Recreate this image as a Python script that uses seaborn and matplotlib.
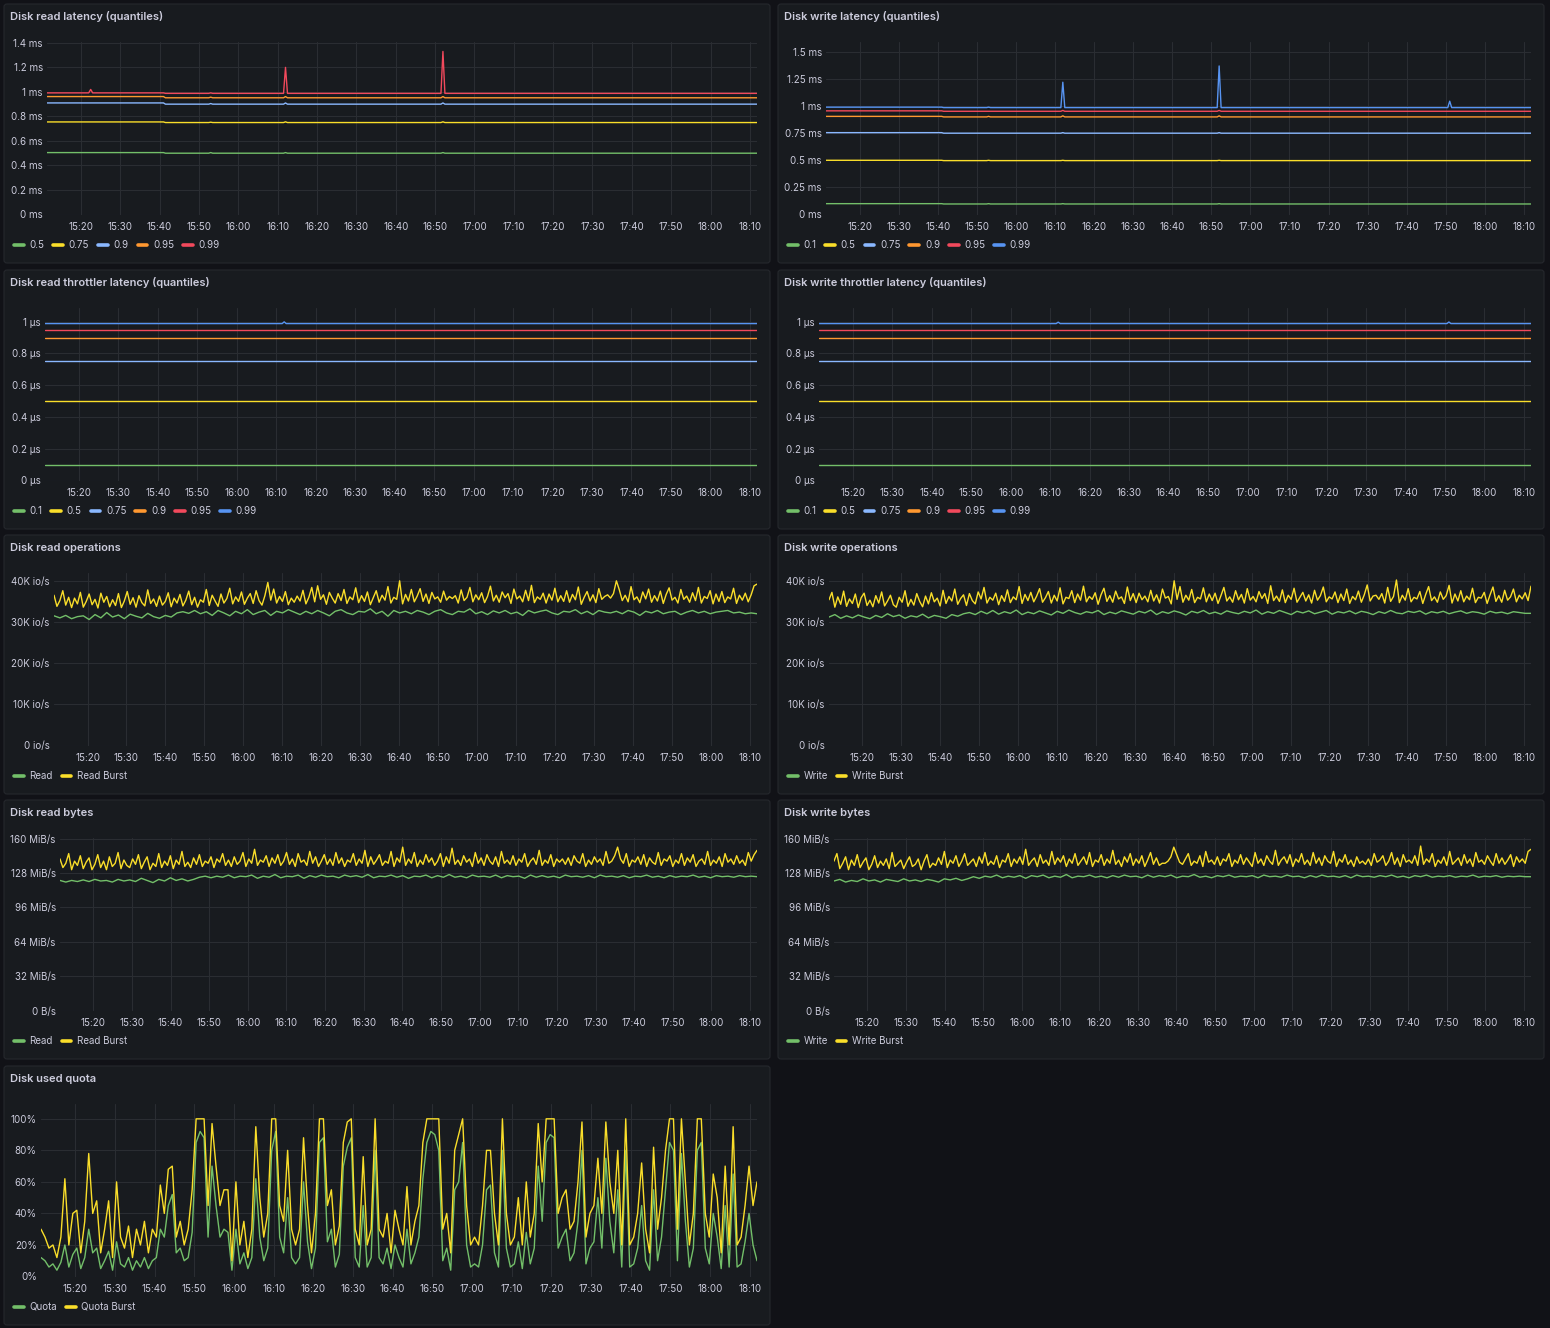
import numpy as np
import pandas as pd
import seaborn as sns
import matplotlib
matplotlib.use("Agg")
import matplotlib.pyplot as plt
from matplotlib.lines import Line2D
from matplotlib.patches import FancyBboxPatch

# ---------------- data ----------------
# time is minutes after 15:00
x_ticks = [20, 30, 40, 50, 60, 70, 80, 90, 100, 110, 120, 130, 140, 150, 160, 170, 180, 190]
x_labels = ['15:20', '15:30', '15:40', '15:50', '16:00', '16:10', '16:20', '16:30', '16:40',
            '16:50', '17:00', '17:10', '17:20', '17:30', '17:40', '17:50', '18:00', '18:10']
t_start, t_end = 11.4, 191.8

# disk read latency (ms)
rlat_t = [11.4, 22, 22.5, 23, 41, 41.5, 52.5, 53, 53.5, 71.5, 72, 72.5, 111.5, 112, 112.5, 191.8]
rlat_50 = [0.505, 0.505, 0.505, 0.505, 0.505, 0.50, 0.50, 0.505, 0.50, 0.50, 0.505, 0.50, 0.50, 0.505, 0.50, 0.50]
rlat_75 = [0.755, 0.755, 0.755, 0.755, 0.755, 0.75, 0.75, 0.753, 0.75, 0.75, 0.756, 0.75, 0.75, 0.756, 0.75, 0.75]
rlat_90 = [0.91, 0.91, 0.91, 0.91, 0.91, 0.90, 0.90, 0.905, 0.90, 0.90, 0.91, 0.90, 0.90, 0.91, 0.90, 0.90]
rlat_95 = [0.962, 0.962, 0.962, 0.962, 0.962, 0.952, 0.952, 0.957, 0.952, 0.952, 0.962, 0.952, 0.952, 0.962, 0.952, 0.952]
rlat_99 = [0.992, 0.992, 1.02, 0.992, 0.992, 0.988, 0.988, 0.992, 0.988, 0.988, 1.20, 0.988, 0.988, 1.33, 0.988, 0.988]

# disk write latency (ms)
wlat_t = [11.4, 22, 41, 41.5, 52.5, 53, 53.5, 71.5, 72, 72.5, 111.5, 112, 112.5, 170.5, 171, 171.5, 191.8]
wlat_10 = [0.10, 0.10, 0.10, 0.097, 0.097, 0.10, 0.097, 0.097, 0.10, 0.097, 0.097, 0.10, 0.097, 0.097, 0.097, 0.097, 0.097]
wlat_50 = [0.50, 0.50, 0.50, 0.497, 0.497, 0.50, 0.497, 0.497, 0.50, 0.497, 0.497, 0.50, 0.497, 0.497, 0.497, 0.497, 0.497]
wlat_75 = [0.755, 0.755, 0.755, 0.75, 0.75, 0.75, 0.75, 0.75, 0.755, 0.75, 0.75, 0.755, 0.75, 0.75, 0.75, 0.75, 0.75]
wlat_90 = [0.905, 0.905, 0.905, 0.90, 0.90, 0.905, 0.90, 0.90, 0.91, 0.90, 0.90, 0.91, 0.90, 0.90, 0.90, 0.90, 0.90]
wlat_95 = [0.956, 0.956, 0.956, 0.952, 0.952, 0.952, 0.952, 0.952, 0.96, 0.952, 0.952, 0.96, 0.952, 0.952, 0.952, 0.952, 0.952]
wlat_99 = [0.99, 0.99, 0.99, 0.986, 0.986, 0.99, 0.986, 0.986, 1.22, 0.986, 0.986, 1.37, 0.986, 0.986, 1.045, 0.986, 0.986]

# throttler latency (us)
rthr_t = [11.4, 71.5, 72, 72.5, 191.8]
rthr_10 = [0.099, 0.099, 0.099, 0.099, 0.099]
rthr_50 = [0.497, 0.497, 0.497, 0.497, 0.497]
rthr_75 = [0.75, 0.75, 0.75, 0.75, 0.75]
rthr_90 = [0.897, 0.897, 0.897, 0.897, 0.897]
rthr_95 = [0.948, 0.948, 0.948, 0.948, 0.948]
rthr_99 = [0.987, 0.987, 0.998, 0.987, 0.987]

wthr_t = [11.4, 71.5, 72, 72.5, 170.5, 171, 171.5, 191.8]
wthr_10 = [0.099, 0.099, 0.099, 0.099, 0.099, 0.099, 0.099, 0.099]
wthr_50 = [0.497, 0.497, 0.497, 0.497, 0.497, 0.497, 0.497, 0.497]
wthr_75 = [0.75, 0.75, 0.75, 0.75, 0.75, 0.75, 0.75, 0.75]
wthr_90 = [0.897, 0.897, 0.897, 0.897, 0.897, 0.897, 0.897, 0.897]
wthr_95 = [0.948, 0.948, 0.948, 0.948, 0.948, 0.948, 0.948, 0.948]
wthr_99 = [0.987, 0.987, 0.996, 0.987, 0.987, 0.997, 0.987, 0.987]

# operations (K io/s), sampled evenly from t_start to t_end
read_ops = [31.5, 31.0, 31.6, 30.8, 31.3, 31.5, 30.6, 31.8, 31.0, 32.3, 31.2, 31.7,
            30.8, 31.9, 31.4, 31.0, 32.1, 31.3, 30.9, 31.6, 31.2, 32.2, 32.5, 32.1,
            32.8, 32.0, 32.5, 31.6, 32.8, 32.2, 31.5, 32.6, 32.0, 33.0, 31.8, 32.4,
            32.8, 31.6, 32.6, 32.2, 33.0, 32.4, 31.8, 32.6, 32.0, 32.8, 32.2, 31.5,
            32.6, 33.0, 32.2, 31.8, 32.6, 32.4, 33.2, 32.0, 32.6, 31.4, 32.8, 32.2,
            32.6, 32.0, 32.8, 32.4, 31.8, 32.6, 33.0, 32.2, 31.8, 32.6, 32.4, 33.2,
            32.0, 32.5, 31.8, 32.7, 32.2, 32.8, 32.0, 32.4, 31.6, 32.8, 32.2, 32.6,
            32.9, 32.2, 31.8, 32.6, 32.4, 33.0, 32.0, 32.6, 31.8, 32.8, 32.4, 32.2,
            32.6, 32.0, 32.8, 32.4, 31.6, 32.6, 32.2, 32.8, 32.0, 32.4, 32.6, 31.8,
            32.4, 32.8, 32.2, 32.6, 32.0, 32.4, 32.6, 32.8, 32.2, 32.4, 32.0, 32.2,
            32.0]
read_ops_burst = [36.5, 33.8, 35.2, 37.6, 34.1, 36.0, 33.5, 35.8, 34.4, 37.2, 33.6, 35.0,
                  36.8, 34.2, 35.5, 33.4, 37.0, 34.8, 36.2, 33.7, 35.4, 34.0, 36.9, 33.5,
                  35.1, 37.4, 34.3, 35.9, 33.6, 36.4, 34.7, 33.9, 37.8, 34.5, 35.6, 33.8,
                  36.3, 34.1, 35.0, 37.1, 33.7, 35.8, 34.6, 36.7, 33.9, 35.3, 37.5, 34.2,
                  36.0, 33.6, 35.4, 34.8, 37.9, 34.0, 36.5, 35.1, 33.8, 36.8, 34.6, 35.7,
                  38.2, 34.4, 36.1, 35.0, 37.3, 34.3, 35.8, 36.9, 34.5, 37.6, 35.2, 34.1,
                  36.4, 39.6, 35.3, 38.0, 34.6, 36.2, 35.0, 37.4, 34.2, 35.8, 34.8, 36.3,
                  35.1, 37.7, 34.4, 36.0, 38.4, 34.9, 38.8, 35.5, 36.6, 34.3, 37.2, 35.8,
                  34.6, 36.9, 35.2, 37.9, 34.5, 36.1, 35.4, 38.3, 34.7, 36.4, 35.0, 37.3,
                  34.2, 35.9, 37.6, 34.8, 36.5, 35.3, 38.6, 34.6, 36.0, 35.5, 40.0, 34.4,
                  36.7, 35.1, 37.9, 34.9, 36.3, 38.1, 35.0, 36.8, 34.5, 37.2, 35.6, 36.1,
                  34.8, 37.5, 35.3, 36.2, 35.7, 36.4, 34.6, 37.8, 35.2, 36.0, 38.4, 34.9,
                  36.6, 35.4, 37.1, 34.7, 36.2, 38.7, 35.1, 36.5, 34.8, 37.3, 35.9, 36.9,
                  34.5, 38.0, 35.6, 36.3, 34.9, 37.7, 35.2, 38.9, 34.7, 36.1, 35.5, 37.0,
                  34.6, 36.8, 35.3, 38.2, 34.9, 36.4, 35.0, 37.6, 34.8, 36.7, 35.4, 38.5,
                  34.3, 36.0, 37.4, 35.1, 36.6, 34.7, 38.1, 35.5, 36.2, 36.6, 35.8, 36.9,
                  40.0, 37.8, 35.2, 36.5, 34.9, 38.6, 35.4, 36.1, 34.7, 37.3, 35.6, 38.0,
                  34.8, 36.4, 35.1, 37.5, 34.5, 36.7, 38.3, 35.3, 36.0, 34.6, 37.9, 35.5,
                  36.3, 34.8, 37.1, 35.2, 38.4, 34.6, 36.2, 35.7, 37.6, 34.4, 36.8, 35.0,
                  37.4, 34.7, 36.1, 35.6, 38.2, 34.5, 36.5, 35.3, 37.0, 34.9, 36.6, 38.8,
                  39.2]
write_ops = [31.2, 31.8, 30.9, 31.5, 31.0, 31.7, 31.2, 30.8, 31.6, 31.1, 32.0, 31.3,
             31.7, 30.9, 31.5, 31.2, 31.9, 31.0, 31.6, 31.3, 30.9, 31.8, 31.4, 32.0,
             32.3, 31.8, 32.6, 32.0, 32.8, 31.9, 32.5, 32.1, 32.9, 31.8, 32.4, 32.0,
             32.7, 32.2, 31.7, 32.6, 32.1, 32.9, 32.3, 31.9, 32.5, 32.2, 32.8, 31.8,
             32.4, 32.0, 32.7, 32.3, 31.9, 32.6, 32.2, 32.9, 31.8, 32.5, 32.1, 32.7,
             32.3, 31.7, 32.6, 32.2, 32.8, 32.0, 32.4, 31.9, 32.7, 32.3, 32.0, 32.6,
             32.2, 32.9, 31.9, 32.5, 32.1, 32.8, 32.3, 31.8, 32.6, 32.2, 32.7, 32.0,
             32.4, 32.8, 31.9, 32.5, 32.2, 32.7, 32.0, 32.6, 32.3, 31.8, 32.5, 32.1,
             32.8, 32.2, 32.0, 32.6, 32.3, 32.7, 31.9, 32.5, 32.2, 32.6, 32.0, 32.4,
             32.7, 32.1, 32.5, 32.3, 31.9, 32.6, 32.2, 32.4, 32.0, 32.5, 32.3, 32.1,
             32.1]
write_ops_burst = [35.4, 37.2, 33.6, 36.1, 34.3, 37.5, 33.8, 35.6, 34.5, 36.8, 33.5, 35.9,
                   37.0, 34.0, 35.3, 33.7, 36.4, 34.6, 37.3, 33.9, 35.1, 36.5, 34.2, 33.6,
                   36.0, 34.8, 37.6, 33.8, 35.5, 34.1, 36.9, 35.0, 33.7, 36.3, 34.4, 37.1,
                   34.9, 35.8, 33.9, 37.7, 34.5, 36.2, 35.1, 38.0, 34.3, 35.7, 36.6, 34.0,
                   36.9, 35.2, 34.4, 37.3, 35.6, 38.4, 34.6, 36.0, 35.3, 37.0, 34.2, 36.4,
                   35.0, 37.8, 34.7, 36.1, 35.4, 38.6, 34.5, 36.7, 35.2, 37.2, 34.9, 36.3,
                   38.1, 34.8, 35.9, 37.4, 34.6, 36.5, 35.1, 38.3, 34.4, 36.0, 35.7, 37.6,
                   34.7, 36.8, 35.3, 38.7, 34.9, 36.2, 35.5, 37.1, 34.3, 36.6, 38.2, 35.0,
                   36.4, 34.8, 37.5, 35.6, 36.1, 34.5, 38.5, 35.2, 36.9, 34.7, 37.0, 35.4,
                   36.3, 34.9, 37.7, 35.1, 36.6, 34.6, 38.0, 35.8, 36.2, 34.4, 40.0, 35.5,
                   38.6, 34.8, 36.5, 35.3, 37.9, 34.7, 36.0, 35.6, 38.3, 34.9, 36.8, 35.2,
                   37.0, 34.5, 36.4, 38.4, 35.1, 36.1, 34.8, 37.6, 35.4, 36.7, 34.6, 38.1,
                   35.3, 36.2, 34.9, 37.4, 35.7, 36.9, 34.5, 38.8, 35.2, 36.3, 35.0, 37.8,
                   34.7, 36.5, 35.5, 38.2, 34.8, 36.0, 37.2, 35.1, 36.6, 34.6, 37.7, 35.3,
                   36.4, 38.5, 34.9, 36.1, 35.6, 37.3, 34.7, 36.8, 35.2, 38.0, 34.5, 36.2,
                   35.4, 37.5, 34.8, 36.6, 39.0, 35.1, 36.3, 36.5, 35.5, 36.9, 34.6, 38.4,
                   35.0, 36.2, 40.2, 34.7, 36.5, 35.3, 38.1, 34.9, 36.0, 35.6, 37.4, 34.5,
                   36.7, 38.6, 35.2, 36.1, 34.8, 37.3, 35.5, 36.4, 38.9, 34.6, 36.8, 35.1,
                   37.6, 34.9, 36.3, 35.4, 38.2, 34.7, 36.0, 35.8, 37.2, 34.5, 36.6, 38.5,
                   35.0, 36.4, 34.8, 37.7, 35.3, 36.1, 38.0, 34.9, 36.5, 35.6, 37.1, 35.2,
                   38.7]

# bytes (MiB/s)
read_bytes = [121, 119.5, 121, 120, 121.5, 120, 122, 120.5, 121, 119.5, 122, 120.5,
              121.5, 120, 123, 121, 119, 122, 120.5, 123.5, 121, 122.5, 120.5, 122,
              124, 125, 123.5, 125, 124, 126, 123.5, 125, 124.5, 126, 123, 125,
              124, 126.5, 123.5, 125, 124.5, 126, 123, 125.5, 124, 126, 124.5, 125,
              123.5, 126, 124.5, 125.5, 124, 126.5, 123.5, 125, 124.5, 126, 124, 125.5,
              123, 125, 124.5, 126, 123.5, 125.5, 124, 126.5, 124, 125, 123.5, 126,
              124.5, 125, 124, 126, 123.5, 125.5, 124.5, 125, 123, 126, 124, 125.5,
              124, 125, 123.5, 126, 124.5, 125, 124, 125.5, 123.5, 126, 124.5, 125,
              124, 125.5, 123.5, 125, 124.5, 126, 124, 125, 123.5, 125.5, 124, 125,
              124.5, 126, 124, 125, 123.5, 125.5, 124.5, 125, 124, 125.5, 124.5, 125,
              124.5]
read_bytes_burst = [141, 133, 137, 146, 131, 139, 135, 144, 132, 138, 142, 131,
                    136, 145, 133, 139, 131, 143, 134, 137, 147, 132, 140, 135,
                    133, 141, 136, 145, 132, 138, 143, 131, 137, 134, 146, 133,
                    139, 135, 144, 132, 140, 136, 148, 134, 138, 133, 142, 136,
                    145, 134, 139, 137, 143, 133, 141, 138, 146, 135, 140, 134,
                    143, 136, 139, 147, 134, 141, 137, 150, 135, 140, 138, 144,
                    134, 142, 137, 145, 135, 139, 147, 136, 141, 134, 146, 138,
                    140, 135, 148, 137, 143, 134, 139, 145, 136, 141, 135, 147,
                    137, 142, 134, 140, 138, 146, 135, 141, 137, 149, 134, 143,
                    136, 140, 145, 135, 139, 137, 148, 134, 142, 138, 152, 135,
                    141, 137, 147, 134, 140, 136, 145, 138, 142, 135, 139, 146,
                    134, 143, 137, 151, 136, 140, 135, 144, 138, 141, 134, 147,
                    137, 142, 135, 145, 139, 136, 143, 134, 148, 137, 140, 136,
                    144, 135, 141, 138, 146, 134, 139, 142, 136, 149, 135, 140,
                    137, 145, 134, 141, 138, 141, 136, 142, 135, 144, 139, 137,
                    146, 134, 140, 136, 143, 138, 141, 135, 148, 137, 139, 144,
                    152, 141, 137, 146, 134, 140, 138, 143, 136, 145, 134, 142,
                    138, 136, 147, 135, 141, 139, 144, 134, 140, 137, 146, 135,
                    142, 138, 145, 134, 139, 141, 136, 148, 135, 140, 137, 143,
                    134, 146, 138, 141, 136, 144, 137, 140, 135, 147, 139, 145,
                    149]
write_bytes = [120.5, 122, 119.5, 121, 120, 122.5, 120.5, 121.5, 119.5, 122, 121, 120,
               122.5, 120.5, 121.5, 120, 122, 121, 119.5, 122.5, 121.5, 123, 121, 122.5,
               124.5, 123, 125, 124, 126, 123.5, 125, 124, 125.5, 123, 125.5, 124.5,
               126, 123.5, 125, 124, 126.5, 123.5, 125, 124.5, 126, 124, 125, 123.5,
               125.5, 124, 126, 124.5, 125, 123.5, 126, 124, 125.5, 124.5, 126, 123.5,
               125, 124.5, 126.5, 124, 125, 123.5, 125.5, 124.5, 126, 124, 125, 124.5,
               125.5, 123.5, 126, 124.5, 125, 124, 126, 124.5, 125, 123.5, 125.5, 124,
               126, 124.5, 125, 124, 125.5, 123.5, 126, 124.5, 125, 124, 125.5, 124.5,
               126, 124, 125, 123.5, 125.5, 124.5, 126, 124, 125, 124.5, 125.5, 124,
               125, 124.5, 126, 124, 125, 124.5, 125.5, 124, 125, 124.5, 125, 124.5,
               124.5]
write_bytes_burst = [139, 146, 132, 137, 143, 131, 140, 135, 145, 133, 138, 142,
                     131, 136, 144, 133, 139, 135, 141, 132, 147, 134, 137, 140,
                     132, 138, 143, 134, 136, 141, 131, 139, 145, 133, 137, 135,
                     142, 136, 148, 133, 140, 137, 144, 134, 139, 146, 135, 138,
                     141, 134, 143, 137, 147, 135, 139, 136, 144, 133, 140, 138,
                     146, 134, 141, 137, 143, 136, 150, 135, 139, 142, 134, 145,
                     137, 140, 135, 148, 136, 142, 138, 144, 134, 141, 137, 146,
                     135, 139, 143, 136, 147, 134, 140, 138, 145, 135, 141, 137,
                     149, 136, 140, 134, 143, 138, 146, 135, 141, 137, 144, 134,
                     140, 147, 136, 142, 135, 137, 137, 139, 143, 152, 145, 138,
                     136, 141, 146, 135, 139, 137, 144, 134, 148, 138, 140, 136,
                     143, 135, 141, 139, 146, 134, 140, 137, 145, 136, 142, 138,
                     134, 147, 137, 141, 135, 144, 139, 136, 149, 135, 140, 143,
                     137, 145, 134, 141, 138, 146, 136, 140, 135, 147, 137, 142,
                     135, 144, 139, 137, 148, 134, 141, 138, 145, 136, 140, 134,
                     143, 137, 139, 136, 141, 135, 146, 138, 140, 144, 135, 139,
                     147, 136, 142, 134, 145, 138, 140, 137, 144, 135, 153, 136,
                     141, 138, 146, 134, 140, 137, 143, 135, 148, 136, 139, 142,
                     135, 145, 137, 141, 134, 147, 138, 140, 136, 144, 139, 135,
                     146, 137, 142, 136, 140, 145, 134, 143, 138, 141, 137, 148,
                     150]

# used quota (%), one sample per minute
quota = [12, 10, 6, 8, 4, 9, 20, 6, 14, 18, 5, 12,
         30, 15, 18, 5, 10, 16, 4, 22, 8, 6, 12, 4,
         10, 6, 12, 5, 10, 12, 30, 25, 45, 52, 15, 18,
         10, 12, 28, 85, 92, 88, 25, 70, 45, 25, 30, 28,
         4, 30, 8, 15, 5, 12, 62, 25, 10, 18, 80, 92,
         25, 15, 50, 12, 8, 12, 60, 22, 5, 18, 85, 88,
         22, 30, 6, 14, 70, 82, 88, 12, 6, 45, 6, 12,
         80, 12, 8, 18, 5, 20, 12, 6, 30, 8, 15, 25,
         62, 85, 92, 90, 80, 10, 18, 4, 55, 60, 85, 20,
         6, 8, 6, 20, 55, 58, 15, 6, 80, 18, 6, 8,
         22, 5, 28, 8, 18, 70, 35, 85, 90, 88, 18, 25,
         30, 10, 15, 35, 80, 8, 18, 22, 50, 18, 75, 35,
         15, 55, 6, 80, 6, 8, 18, 45, 10, 4, 55, 10,
         25, 55, 85, 80, 10, 78, 35, 6, 18, 80, 85, 18,
         8, 40, 25, 5, 45, 6, 65, 6, 8, 22, 40, 20,
         10]
quota_burst = [30, 25, 18, 20, 12, 25, 62, 20, 40, 42, 15, 35,
               78, 40, 48, 15, 30, 48, 12, 60, 25, 18, 32, 12,
               30, 20, 35, 15, 30, 25, 58, 40, 68, 70, 25, 35,
               20, 30, 55, 100, 100, 100, 45, 97, 70, 45, 55, 55,
               10, 60, 20, 35, 12, 30, 95, 50, 25, 40, 100, 100,
               45, 35, 80, 30, 20, 30, 88, 45, 15, 40, 100, 100,
               45, 55, 20, 32, 85, 98, 100, 30, 20, 76, 20, 30,
               100, 30, 25, 40, 15, 42, 30, 20, 57, 20, 35, 45,
               85, 100, 100, 100, 100, 30, 40, 15, 80, 90, 100, 45,
               20, 25, 20, 45, 80, 80, 40, 20, 100, 40, 20, 25,
               50, 20, 60, 25, 40, 97, 60, 100, 100, 100, 40, 50,
               55, 30, 35, 60, 98, 25, 40, 45, 75, 40, 98, 60,
               40, 80, 20, 100, 20, 25, 40, 72, 30, 15, 82, 30,
               50, 80, 100, 100, 30, 100, 60, 20, 40, 100, 100, 40,
               25, 65, 50, 15, 70, 20, 95, 20, 25, 45, 70, 45,
               60]

lat_ms_ticks = [0, 0.2, 0.4, 0.6, 0.8, 1.0, 1.2, 1.4]
lat_ms_labels = ['0 ms', '0.2 ms', '0.4 ms', '0.6 ms', '0.8 ms', '1 ms', '1.2 ms', '1.4 ms']
wlat_ms_ticks = [0, 0.25, 0.5, 0.75, 1.0, 1.25, 1.5]
wlat_ms_labels = ['0 ms', '0.25 ms', '0.5 ms', '0.75 ms', '1 ms', '1.25 ms', '1.5 ms']
thr_ticks = [0, 0.2, 0.4, 0.6, 0.8, 1.0]
thr_labels = ['0 µs', '0.2 µs', '0.4 µs', '0.6 µs', '0.8 µs', '1 µs']
ops_ticks = [0, 10, 20, 30, 40]
ops_labels = ['0 io/s', '10K io/s', '20K io/s', '30K io/s', '40K io/s']
bytes_ticks = [0, 32, 64, 96, 128, 160]
bytes_labels = ['0 B/s', '32 MiB/s', '64 MiB/s', '96 MiB/s', '128 MiB/s', '160 MiB/s']
quota_ticks = [0, 20, 40, 60, 80, 100]
quota_labels = ['0%', '20%', '40%', '60%', '80%', '100%']

# ---------------- style ----------------
GREEN, YELLOW, LBLUE, ORANGE, RED, BLUE = '#73BF69', '#FADE2A', '#8AB8FF', '#FF9830', '#F2495C', '#5794F2'
PAGE, PANEL, BORDER, GRID, TEXT = '#111217', '#181b1f', '#25282d', '#2a2d32', '#ccccdc'

sns.set_theme(style='dark')
plt.rcParams['font.family'] = ['Inter', 'DejaVu Sans']

W, H = 1550, 1328
PW, PH = 766, 259
fig = plt.figure(figsize=(W / 100, H / 100), dpi=100, facecolor=PAGE)


def panel(px, py, title, left, series, ylim, yticks, ylabels):
    fig.add_artist(FancyBboxPatch((px / W, 1 - (py + PH) / H), PW / W, PH / H,
                                  boxstyle='round,pad=0,rounding_size=0.002',
                                  transform=fig.transFigure, facecolor=PANEL,
                                  edgecolor=BORDER, linewidth=0.8, zorder=0))
    fig.text((px + 6) / W, 1 - (py + 13) / H, title, color=TEXT, fontsize=8,
             fontweight='semibold', va='center', ha='left')

    right = px + PW - 13
    top, bottom = py + 38, py + 210.5
    ax = fig.add_axes([left / W, 1 - bottom / H, (right - left) / W, (bottom - top) / H])
    ax.set_facecolor(PANEL)

    frames = [pd.DataFrame({'t': t, 'v': v, 'name': name}) for name, t, v, _ in series]
    df = pd.concat(frames, ignore_index=True)
    palette = {name: c for name, _, _, c in series}
    sns.lineplot(data=df, x='t', y='v', hue='name', palette=palette, estimator=None,
                 sort=False, legend=False, linewidth=1.0, ax=ax)

    ax.set_xlim(t_start, t_end)
    ax.set_ylim(*ylim)
    ax.set_xticks(x_ticks)
    ax.set_xticklabels(x_labels)
    ax.set_yticks(yticks)
    ax.set_yticklabels(ylabels)
    ax.set_xlabel('')
    ax.set_ylabel('')
    ax.tick_params(length=0, labelsize=7, colors=TEXT)
    ax.tick_params(axis='x', pad=5.5)
    ax.tick_params(axis='y', pad=3)
    ax.grid(True, color=GRID, linewidth=0.8)
    for s in ax.spines.values():
        s.set_visible(False)

    handles = [Line2D([0], [0], color=c, lw=2.6, solid_capstyle='round') for _, _, _, c in series]
    names = [name for name, _, _, _ in series]
    fig.legend(handles, names, loc='center left',
               bbox_to_anchor=((px + 10) / W, 1 - (py + 241) / H),
               ncol=len(names), frameon=False, fontsize=7, labelcolor=TEXT,
               handlelength=1.0, handletextpad=0.6, columnspacing=0.9,
               borderpad=0, borderaxespad=0)
    return ax


def tgrid(vals):
    return np.linspace(t_start, t_end, len(vals))


rows = [4, 270, 535, 800, 1066]
LX, RX = 4, 778

panel(LX, rows[0], 'Disk read latency (quantiles)', 47,
      [('0.5', rlat_t, rlat_50, GREEN), ('0.75', rlat_t, rlat_75, YELLOW),
       ('0.9', rlat_t, rlat_90, LBLUE), ('0.95', rlat_t, rlat_95, ORANGE),
       ('0.99', rlat_t, rlat_99, RED)],
      (0, 1.407), lat_ms_ticks, lat_ms_labels)

panel(RX, rows[0], 'Disk write latency (quantiles)', 826,
      [('0.1', wlat_t, wlat_10, GREEN), ('0.5', wlat_t, wlat_50, YELLOW),
       ('0.75', wlat_t, wlat_75, LBLUE), ('0.9', wlat_t, wlat_90, ORANGE),
       ('0.95', wlat_t, wlat_95, RED), ('0.99', wlat_t, wlat_99, BLUE)],
      (0, 1.591), wlat_ms_ticks, wlat_ms_labels)

panel(LX, rows[1], 'Disk read throttler latency (quantiles)', 45,
      [('0.1', rthr_t, rthr_10, GREEN), ('0.5', rthr_t, rthr_50, YELLOW),
       ('0.75', rthr_t, rthr_75, LBLUE), ('0.9', rthr_t, rthr_90, ORANGE),
       ('0.95', rthr_t, rthr_95, RED), ('0.99', rthr_t, rthr_99, BLUE)],
      (0, 1.085), thr_ticks, thr_labels)

panel(RX, rows[1], 'Disk write throttler latency (quantiles)', 819,
      [('0.1', wthr_t, wthr_10, GREEN), ('0.5', wthr_t, wthr_50, YELLOW),
       ('0.75', wthr_t, wthr_75, LBLUE), ('0.9', wthr_t, wthr_90, ORANGE),
       ('0.95', wthr_t, wthr_95, RED), ('0.99', wthr_t, wthr_99, BLUE)],
      (0, 1.085), thr_ticks, thr_labels)

panel(LX, rows[2], 'Disk read operations', 54,
      [('Read', tgrid(read_ops), read_ops, GREEN),
       ('Read Burst', tgrid(read_ops_burst), read_ops_burst, YELLOW)],
      (0, 41.9), ops_ticks, ops_labels)

panel(RX, rows[2], 'Disk write operations', 829,
      [('Write', tgrid(write_ops), write_ops, GREEN),
       ('Write Burst', tgrid(write_ops_burst), write_ops_burst, YELLOW)],
      (0, 41.9), ops_ticks, ops_labels)

panel(LX, rows[3], 'Disk read bytes', 60,
      [('Read', tgrid(read_bytes), read_bytes, GREEN),
       ('Read Burst', tgrid(read_bytes_burst), read_bytes_burst, YELLOW)],
      (0, 160.5), bytes_ticks, bytes_labels)

panel(RX, rows[3], 'Disk write bytes', 834,
      [('Write', tgrid(write_bytes), write_bytes, GREEN),
       ('Write Burst', tgrid(write_bytes_burst), write_bytes_burst, YELLOW)],
      (0, 160.5), bytes_ticks, bytes_labels)

panel(LX, rows[4], 'Disk used quota', 41,
      [('Quota', tgrid(quota), quota, GREEN),
       ('Quota Burst', tgrid(quota_burst), quota_burst, YELLOW)],
      (0, 109.4), quota_ticks, quota_labels)

fig.savefig('out.png', dpi=100, facecolor=PAGE)
